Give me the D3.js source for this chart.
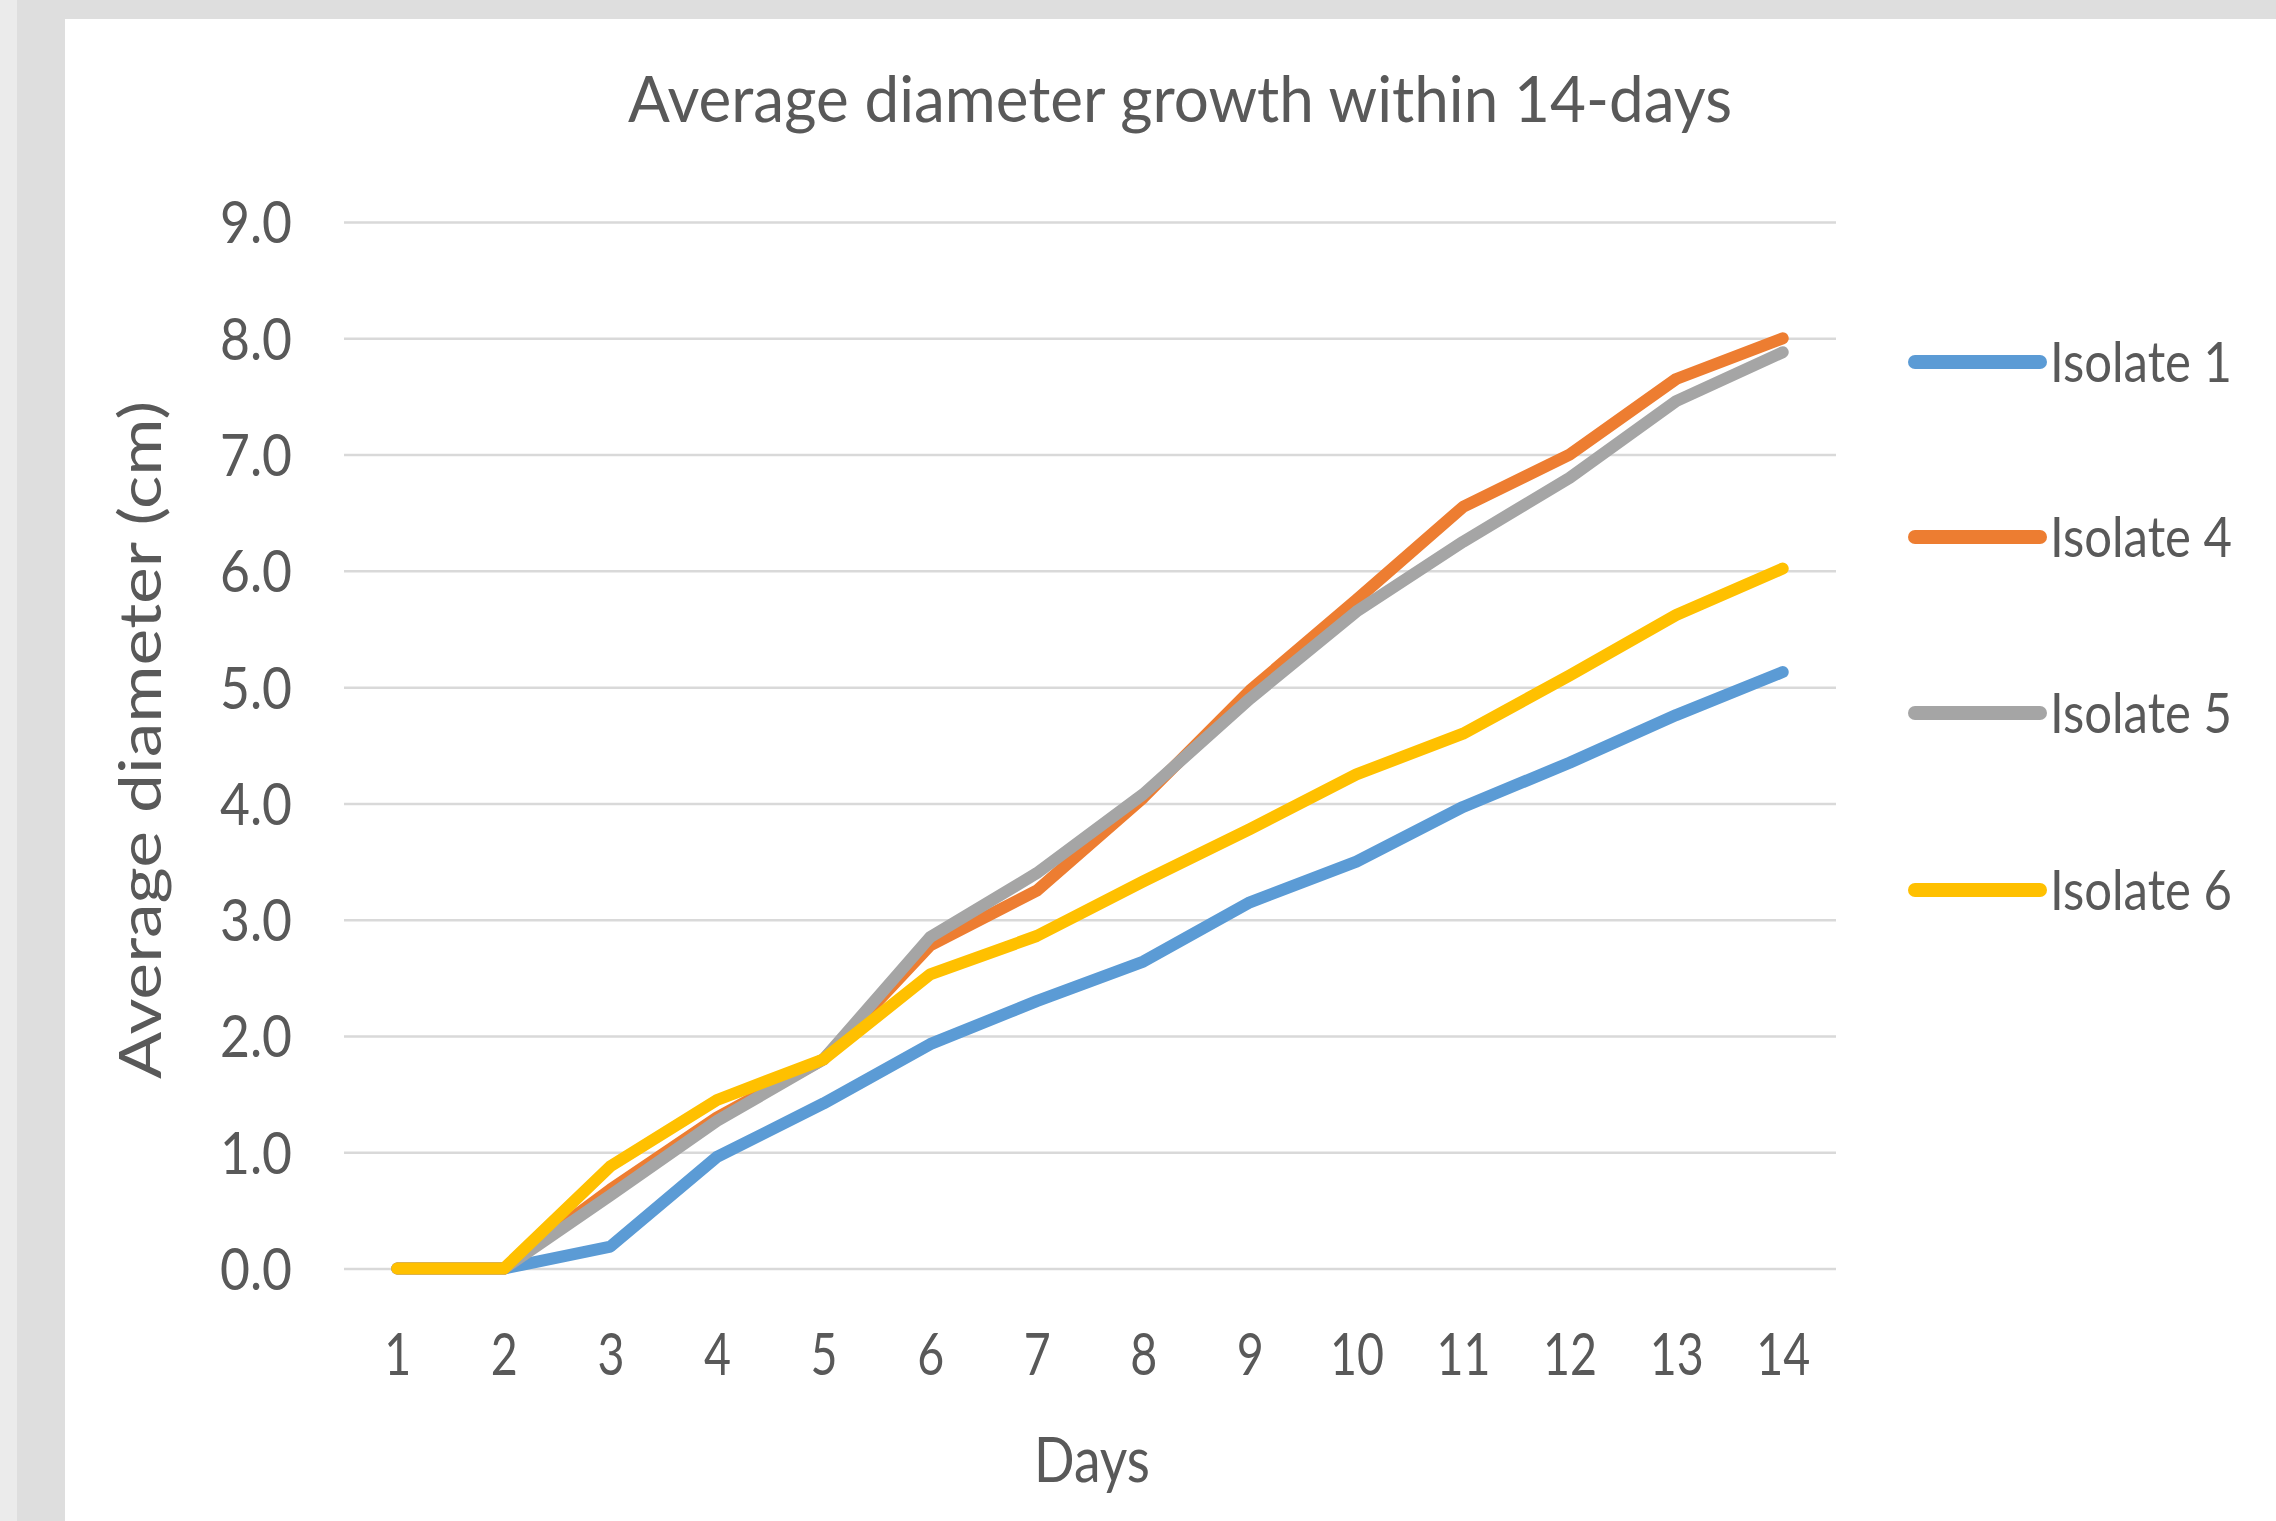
<!DOCTYPE html>
<html><head><meta charset="utf-8">
<script src="https://cdn.jsdelivr.net/npm/d3@7"></script>
<style>
html,body{margin:0;padding:0;background:#dedede;}
svg{display:block;}
text{font-family:Lato,"Open Sans",sans-serif;fill:#595959;}
</style></head><body>
<svg id="chart" width="2276" height="1521"></svg>
<script>
const days = [1,2,3,4,5,6,7,8,9,10,11,12,13,14];
const seriesNames = ["Isolate 1","Isolate 4","Isolate 5","Isolate 6"];
const isolate1 = [0,0,0.19,0.96,1.42,1.93,2.30,2.64,3.15,3.50,3.97,4.35,4.76,5.13];
const isolate4 = [0,0,0.68,1.30,1.80,2.78,3.25,4.05,4.97,5.75,6.55,7.00,7.65,8.00];
const isolate5 = [0,0,0.63,1.27,1.80,2.85,3.40,4.08,4.90,5.65,6.25,6.80,7.46,7.88];
const isolate6 = [0,0,0.88,1.45,1.80,2.53,2.86,3.33,3.78,4.25,4.60,5.10,5.62,6.02];
const yTicks = [0,1,2,3,4,5,6,7,8,9];
const colors = ["#5b9bd5","#ed7d31","#a5a5a5","#ffc000"];
const titleText = "Average diameter growth within 14-days";
const xTitle = "Days";
const yTitle = "Average diameter (cm)";

const seriesValues = [isolate1, isolate4, isolate5, isolate6];

const svg = d3.select("#chart");
// background panels
svg.append("rect").attr("x",0).attr("y",0).attr("width",2276).attr("height",1521).attr("fill","#dedede");
svg.append("rect").attr("x",0).attr("y",0).attr("width",17).attr("height",1521).attr("fill","#ebebeb");
svg.append("rect").attr("x",65).attr("y",19).attr("width",2211).attr("height",1502).attr("fill","#ffffff");

const plot = {left:344, right:1836, top:222, bottom:1268.6};
const x = d3.scalePoint().domain(days).range([plot.left, plot.right]).padding(0.5);
const y = d3.scaleLinear().domain([0,9]).range([plot.bottom, plot.top]);

function fitWidth(sel, target){
  sel.each(function(){
    const w = this.getComputedTextLength();
    d3.select(this).attr("textLength", target).attr("lengthAdjust","spacingAndGlyphs");
  });
}
function scaleWidth(sel, k){
  sel.each(function(){
    const w = this.getComputedTextLength();
    d3.select(this).attr("textLength", w*k).attr("lengthAdjust","spacingAndGlyphs");
  });
}

// y axis with gridlines
const yAxis = d3.axisLeft(y).tickValues(yTicks).tickFormat(d3.format(".1f"))
  .tickSize(-(plot.right-plot.left)).tickPadding(52);
const gy = svg.append("g").attr("transform",`translate(${plot.left},0)`).call(yAxis);
gy.select(".domain").remove();
gy.selectAll(".tick line").attr("stroke","#d9d9d9").attr("stroke-width",2.5);
gy.selectAll(".tick text").attr("font-size",58).attr("fill","#595959").attr("dy","0.36em")
  .style("font-family","Lato");
{
  const t = gy.selectAll(".tick text").filter(d=>d===9).node();
  const k = 72 / t.getComputedTextLength();
  scaleWidth(gy.selectAll(".tick text"), k);
}

// x axis
const xAxis = d3.axisBottom(x).tickSize(0).tickPadding(0);
const gx = svg.append("g").attr("transform",`translate(0,${plot.bottom})`).call(xAxis);
gx.select(".domain").remove();
gx.selectAll(".tick text").attr("font-size",58).attr("fill","#595959")
  .attr("y",1375-plot.bottom).attr("dy",0).style("font-family","Lato");
{
  const t = gx.selectAll(".tick text").filter(d=>d===10).node();
  const k = 54 / t.getComputedTextLength();
  scaleWidth(gx.selectAll(".tick text"), k);
}

// lines
const line = d3.line().x((d,i)=>x(days[i])).y(d=>y(d));
seriesValues.forEach((vals,i)=>{
  svg.append("path").datum(vals).attr("d",line).attr("fill","none")
    .attr("stroke",colors[i]).attr("stroke-width",12)
    .attr("stroke-linejoin","round").attr("stroke-linecap","round");
});

// title
const tt = svg.append("text").attr("x",1180).attr("y",122).attr("text-anchor","middle")
  .attr("font-size",63).text(titleText);
fitWidth(tt, 1104);

// x title
const xt = svg.append("text").attr("x",1092).attr("y",1482).attr("text-anchor","middle")
  .attr("font-size",61).text(xTitle);
fitWidth(xt, 116);

// y title
const yt = svg.append("text").attr("transform","translate(161,740) rotate(-90)")
  .attr("text-anchor","middle").attr("font-size",58).text(yTitle);
fitWidth(yt, 678);

// legend
const legendY = [362,537,713,890];
const lg = svg.append("g");
seriesNames.forEach((name,i)=>{
  lg.append("line").attr("x1",1915).attr("x2",2040).attr("y1",legendY[i]).attr("y2",legendY[i])
    .attr("stroke",colors[i]).attr("stroke-width",14).attr("stroke-linecap","round");
  const t = lg.append("text").attr("x",2050).attr("y",legendY[i]+20).attr("font-size",56).text(name);
  fitWidth(t, 182);
});
</script>
</body></html>
